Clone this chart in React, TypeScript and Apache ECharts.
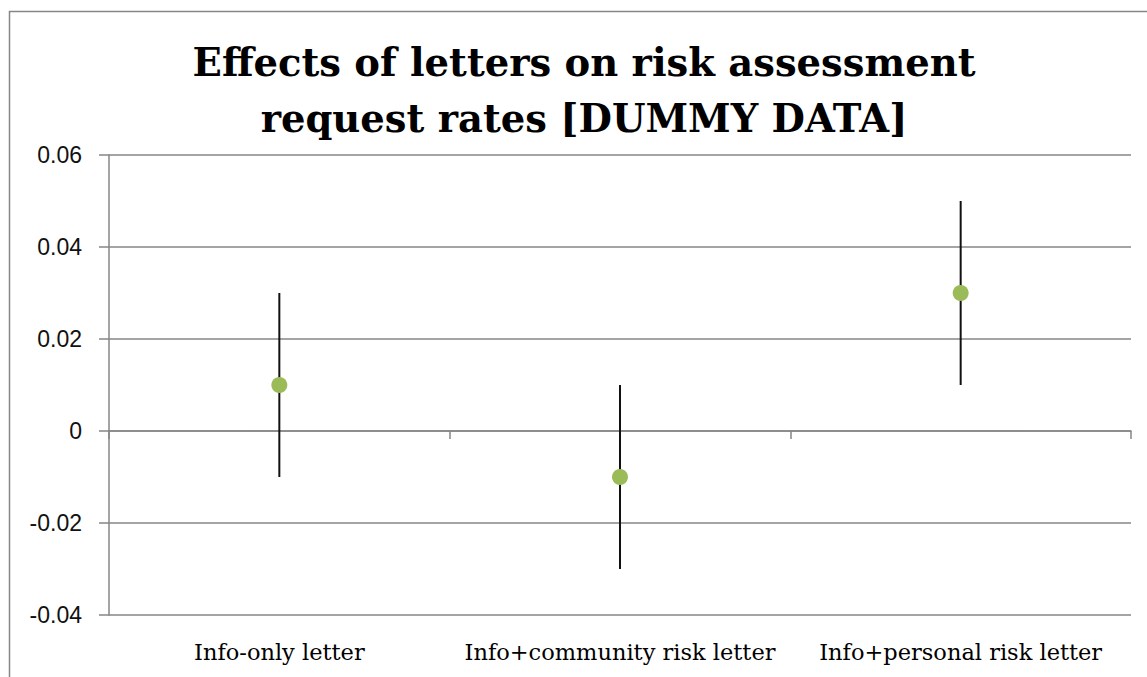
import React, { useEffect, useRef } from "react";
import * as echarts from "echarts";

const categories = [
  "Info-only letter",
  "Info+community risk letter",
  "Info+personal risk letter",
];
const effects = [0.01, -0.01, 0.03];
const lowerBounds = [-0.01, -0.03, 0.01];
const upperBounds = [0.03, 0.01, 0.05];
const titleLines = [
  "Effects of letters on risk assessment",
  "request rates [DUMMY DATA]",
];
const yMin = -0.04;
const yMax = 0.06;
const yStep = 0.02;

const GRAY = "#868686";

export default function App() {
  const ref = useRef<HTMLDivElement>(null);

  useEffect(() => {
    if (!ref.current) return;
    const chart = echarts.init(ref.current, undefined, { renderer: "svg" });
    const errorData = categories.map((_, i) => [i, lowerBounds[i], upperBounds[i]]);

    chart.setOption({
      animation: false,
      backgroundColor: "#ffffff",
      grid: { left: 109, right: 16, top: 155, bottom: 62, containLabel: false },
      graphic: [
        {
          type: "rect",
          shape: { x: 9.5, y: 11.5, width: 1300, height: 800 },
          style: { fill: "none", stroke: GRAY, lineWidth: 1.5 },
          silent: true,
        },
        {
          type: "text",
          x: 584,
          y: 62,
          style: {
            text: titleLines[0],
            font: "bold 38.5px 'DejaVu Serif', serif",
            fill: "#000",
            textAlign: "center",
            textVerticalAlign: "middle",
          },
        },
        {
          type: "text",
          x: 584,
          y: 118,
          style: {
            text: titleLines[1],
            font: "bold 38.5px 'DejaVu Serif', serif",
            fill: "#000",
            textAlign: "center",
            textVerticalAlign: "middle",
          },
        },
      ],
      xAxis: [
        {
          type: "category",
          data: categories,
          position: "bottom",
          boundaryGap: true,
          axisLine: { show: false, onZero: false },
          axisTick: { show: false },
          splitLine: { show: false },
          axisLabel: {
            margin: 25,
            fontFamily: "'DejaVu Serif', serif",
            fontSize: 22.5,
            color: "#000",
            interval: 0,
          },
        },
        {
          type: "category",
          data: categories,
          position: "bottom",
          boundaryGap: true,
          axisLine: { show: true, onZero: true, lineStyle: { color: GRAY, width: 1.5 } },
          axisTick: { show: true, length: 8, interval: 0, lineStyle: { color: GRAY, width: 1.5 } },
          axisLabel: { show: false },
          splitLine: { show: false },
        },
      ],
      yAxis: {
        type: "value",
        min: yMin,
        max: yMax,
        interval: yStep,
        axisLine: { show: true, lineStyle: { color: GRAY, width: 1.5 } },
        axisTick: { show: true, length: 10, lineStyle: { color: GRAY, width: 1.5 } },
        splitLine: { show: true, lineStyle: { color: GRAY, width: 1.5 } },
        axisLabel: {
          margin: 27,
          fontFamily: "'Liberation Sans', sans-serif",
          fontSize: 23,
          color: "#111",
          formatter: (v: number) => (Math.abs(v) < 1e-9 ? "0" : v.toFixed(2)),
        },
      },
      series: [
        {
          type: "custom",
          xAxisIndex: 0,
          data: errorData,
          encode: { x: 0, y: [1, 2] },
          z: 2,
          renderItem: (params: any, api: any) => {
            const idx = api.value(0);
            const lo = api.coord([idx, api.value(1)]);
            const hi = api.coord([idx, api.value(2)]);
            return {
              type: "line",
              shape: { x1: lo[0], y1: lo[1], x2: hi[0], y2: hi[1] },
              style: { stroke: "#111", lineWidth: 2 },
            };
          },
        },
        {
          type: "scatter",
          xAxisIndex: 0,
          data: effects,
          symbol: "circle",
          symbolSize: 16,
          itemStyle: { color: "#9BBB59", opacity: 1 },
          z: 3,
        },
      ],
    });

    return () => chart.dispose();
  }, []);

  return (
    <div
      ref={ref}
      style={{ position: "absolute", left: 0, top: 0, width: 1147, height: 677 }}
    />
  );
}
